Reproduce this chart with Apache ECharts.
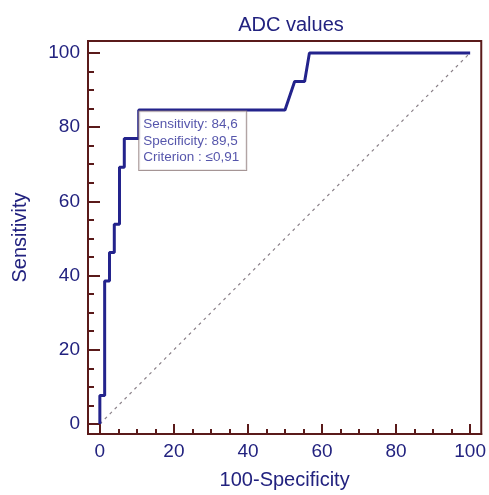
<!DOCTYPE html>
<html>
<head>
<meta charset="utf-8">
<title>ADC values</title>
<script src="https://cdn.jsdelivr.net/npm/echarts@6/dist/echarts.min.js"></script>
<style>
  html, body { margin: 0; padding: 0; background: #fff; }
  #chart { width: 489px; height: 495px; }
</style>
</head>
<body>
<div id="chart"></div>
<script>
// ROC curve points: 100-Specificity, Sensitivity
const fprValues = [0, 0, 1.3, 1.3, 2.6, 2.6, 3.9, 3.9, 5.3, 5.3, 6.6, 6.6, 10.5, 10.5, 50.0, 52.6, 55.3, 56.6, 100]
const sensValues = [0, 7.7, 7.7, 38.5, 38.5, 46.2, 46.2, 53.8, 53.8, 69.2, 69.2, 76.9, 76.9, 84.6, 84.6, 92.3, 92.3, 100, 100]
const majorTicks = [0, 20, 40, 60, 80, 100]
const minorTicks = [0, 5, 10, 15, 20, 25, 30, 35, 40, 45, 50, 55, 60, 65, 70, 75, 80, 85, 90, 95, 100]
const criterionPoint = [10.5, 84.6]
const criterionLines = ['Sensitivity: 84,6', 'Specificity: 89,5', 'Criterion : \u22640,91']

const axisColor = '#5a1a1a'
const textColor = '#22227f'
const font = "'Liberation Sans', Arial, sans-serif"

const baseAxis = (extra) => Object.assign({
  type: 'value',
  splitLine: { show: false },
  axisLine: { show: true, onZero: false, lineStyle: { color: axisColor, width: 2 } },
  axisLabel: { show: false }
}, extra)

const chart = echarts.init(document.getElementById('chart'), null, { renderer: 'canvas' })

chart.setOption({
  animation: false,
  title: {
    text: 'ADC values',
    left: 286, top: 10, textAlign: 'center',
    textStyle: { color: textColor, fontSize: 20, fontWeight: 'normal', fontFamily: font }
  },
  grid: {
    left: 88, right: 6, top: 41, bottom: 58,
    show: true, borderColor: axisColor, borderWidth: 2, backgroundColor: 'transparent'
  },
  xAxis: [
    baseAxis({
      min: -3.2, max: 103,
      axisTick: { show: true, inside: true, length: 10, customValues: majorTicks,
        lineStyle: { color: axisColor, width: 2 } },
      axisLabel: { show: true, customValues: majorTicks, margin: 8,
        color: textColor, fontSize: 19, fontFamily: font },
      name: '100-Specificity', nameLocation: 'middle', nameGap: 36,
      nameTextStyle: { color: textColor, fontSize: 20, fontFamily: font }
    }),
    baseAxis({
      min: -3.2, max: 103, position: 'bottom',
      axisTick: { show: true, inside: true, length: 5, customValues: minorTicks,
        lineStyle: { color: axisColor, width: 2 } }
    })
  ],
  yAxis: [
    baseAxis({
      min: -2.7, max: 103.2,
      axisTick: { show: true, inside: true, length: 12, customValues: majorTicks,
        lineStyle: { color: axisColor, width: 2 } },
      axisLabel: { show: true, customValues: majorTicks, margin: 8,
        color: textColor, fontSize: 19, fontFamily: font },
      name: 'Sensitivity', nameLocation: 'middle', nameGap: 58,
      nameTextStyle: { color: textColor, fontSize: 20, fontFamily: font }
    }),
    baseAxis({
      min: -2.7, max: 103.2, position: 'left',
      axisTick: { show: true, inside: true, length: 6, customValues: minorTicks,
        lineStyle: { color: axisColor, width: 2 } }
    })
  ],
  series: [
    {
      type: 'line',
      data: [[0, 0], [100, 100]],
      showSymbol: false,
      silent: true,
      lineStyle: { color: '#8a8088', width: 1.2, type: [3, 4] }
    },
    {
      type: 'line',
      data: fprValues.map((x, i) => [x, sensValues[i]]),
      showSymbol: false,
      lineStyle: { color: '#23238c', width: 3 },
      z: 3
    },
    {
      type: 'scatter',
      data: [criterionPoint],
      symbolSize: 1,
      itemStyle: { color: 'rgba(0,0,0,0)' },
      z: 4,
      label: {
        show: true,
        position: [1, 2],
        align: 'left',
        verticalAlign: 'top',
        formatter: criterionLines.join('\n'),
        color: '#2a2a96',
        fontSize: 13.5,
        fontFamily: font,
        lineHeight: 16.5,
        backgroundColor: '#fff',
        borderColor: '#8f7b7b',
        borderWidth: 1,
        padding: [5, 7, 4, 4]
      }
    }
  ]
})
</script>
</body>
</html>
